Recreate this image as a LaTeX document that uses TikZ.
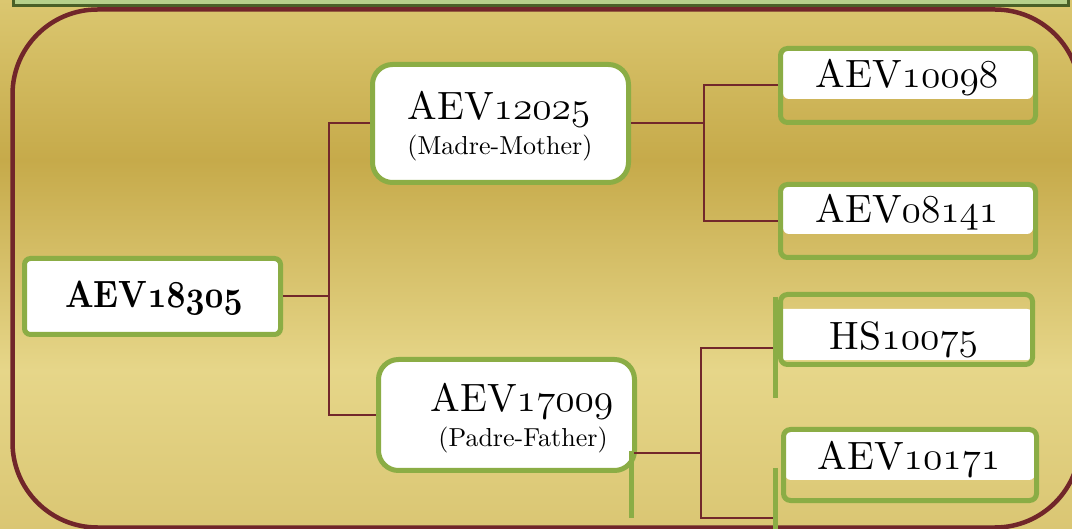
\documentclass[tikz,border=0pt]{standalone}
\usepackage{fix-cm}
\usepackage{fontspec}
\newfontfamily\lmten{lmroman10-regular.otf}[BoldFont=lmroman10-bold.otf]
\usetikzlibrary{calc}
\definecolor{bgA}{RGB}{219,199,112}
\definecolor{bgB}{RGB}{198,170,74}
\definecolor{bgC}{RGB}{230,214,137}
\definecolor{bgD}{RGB}{218,198,115}
\definecolor{framered}{RGB}{113,38,42}
\definecolor{linkred}{RGB}{114,40,43}
\definecolor{boxgreen}{RGB}{139,173,69}
\definecolor{bannergreen}{RGB}{182,208,138}
\definecolor{bannerdark}{RGB}{74,96,39}
\newcommand\osf[1]{{\usefont{OML}{cmm}{m}{it}#1}}
\newcommand\osfb[1]{{\usefont{OML}{cmm}{b}{it}#1}}
\tikzset{
  link/.style={draw=linkred, line width=2pt},
  bigbox/.style={draw=boxgreen, line width=5pt, rounded corners=20pt, inner sep=0pt},
  smallbox/.style={draw=boxgreen, line width=5pt, rounded corners=7pt, inner sep=0pt},
  whitepart/.style={fill=white, rounded corners=6pt},
  greenbar/.style={draw=boxgreen, line width=5pt},
  idtext/.style={anchor=base, inner sep=0pt, font=\lmten\fontsize{39.5}{46}\selectfont},
  subtext/.style={anchor=base, inner sep=0pt, font=\lmten\fontsize{26}{31}\selectfont},
}
\begin{document}
\begin{tikzpicture}[x=1pt,y=-1pt]
\useasboundingbox (0,0) rectangle (1072,529);
% background gradient
\shade[top color=bgA, bottom color=bgB] (0,0) rectangle (1072,160.5);
\shade[top color=bgB, bottom color=bgC] (0,160) rectangle (1072,370.5);
\shade[top color=bgC, bottom color=bgD] (0,370) rectangle (1072,529);
% banner
\draw[fill=bannergreen, draw=bannerdark, line width=3pt] (13.5,-10) rectangle (1068.5,5.5);
% frame
\draw[draw=framered, line width=4.5pt, rounded corners=85pt] (12.5,9.5) rectangle (1080,527.5);

% white parts
\fill[whitepart] (783,50) rectangle (1033,99);
\fill[whitepart] (783,186) rectangle (1033,234);
\fill[whitepart] (776,309) rectangle (1033,360);
\fill[whitepart] (785,432) rectangle (1035,480);

% boxes
\node[smallbox, fill=white, rounded corners=6pt, minimum width=256pt, minimum height=76pt] (root) at (152.5,296.5) {};
\node[bigbox, fill=white, minimum width=256pt, minimum height=118pt] (mother) at (500.5,123.5) {};
\node[bigbox, fill=white, minimum width=256pt, minimum height=111pt] (father) at (506.5,415) {};
\node[smallbox, minimum width=255pt, minimum height=74pt] (n1) at (908,85.5) {};
\node[smallbox, minimum width=255pt, minimum height=73pt] (n2) at (908,221) {};
\node[smallbox, minimum width=252pt, minimum height=70pt] (n3) at (906.5,329.5) {};
\node[smallbox, minimum width=253pt, minimum height=71pt] (n4) at (910,465) {};

% green bars
\draw[greenbar] (775,297) -- (775,398);
\draw[greenbar] (775,468) -- (775,531);
\draw[greenbar] (631.5,451) -- (631.5,518);

% junctions
\coordinate (j1) at (329,296.5);
\coordinate (j2) at (704,124);
\coordinate (fo) at ($(father.south east)+(-3,-20)$);
\coordinate (j3) at (701,453);
\coordinate (b3) at (773,348);
\coordinate (b4) at (773,518);

% connectors
\draw[link] (root.east) -- (j1);
\draw[link] (mother.west) -| (j1) |- (father.west);
\draw[link] (mother.east) -- (mother.east -| j2);
\draw[link] (n1.west) -| (j2) |- (n2.west);
\draw[link] (fo) -- (j3);
\draw[link] (b3) -| (j3) |- (b4);

% texts
\node[anchor=base, inner sep=0pt, xscale=0.87, font=\lmten\fontsize{38}{45}\selectfont\bfseries] (troot) at (154,308) {AEV\osfb{18305}};
\node[idtext] (tm) at (499,120) {AEV\osf{12025}};
\node[subtext] (tms) at (500,155) {(Madre-Mother)};
\node[idtext] (tf) at (522,412) {AEV\osf{17009}};
\node[subtext] (tfs) at (523,447) {(Padre-Father)};
\node[idtext] (t1) at (907,88) {AEV\osf{10098}};
\node[idtext] (t2) at (907,223) {AEV\osf{08141}};
\node[idtext] (t3) at (904,350) {HS\osf{10075}};
\node[idtext] (t4) at (909,469) {AEV\osf{10171}};
\end{tikzpicture}
\end{document}
